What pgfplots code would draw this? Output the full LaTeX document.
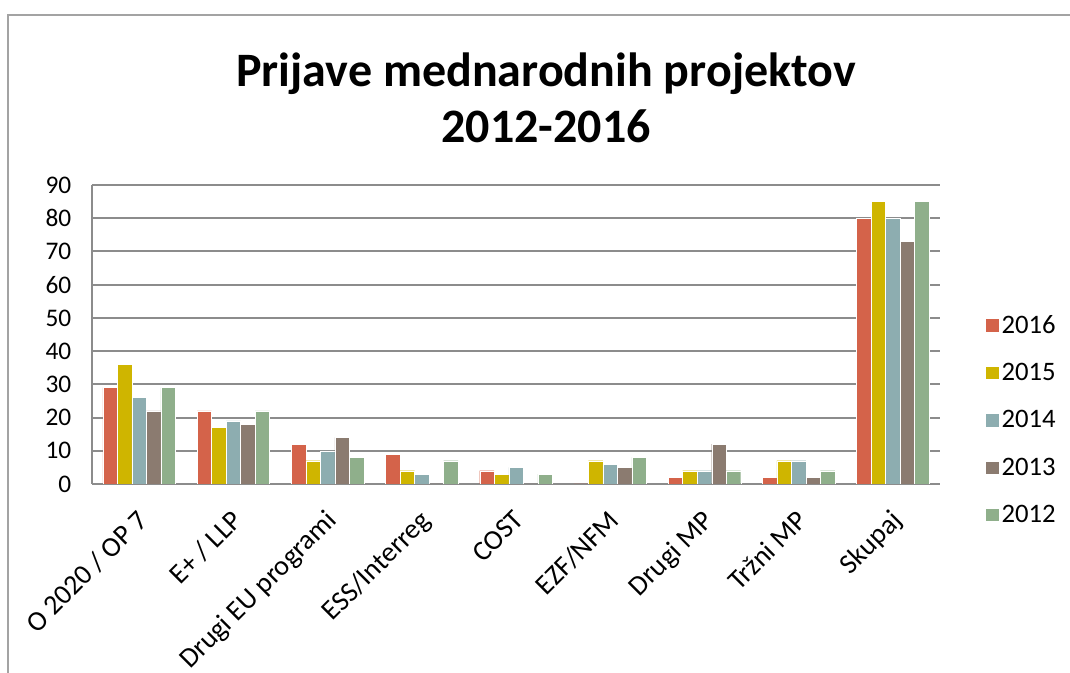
\documentclass[border=0pt]{standalone}
\usepackage{pgfplots}
\pgfplotsset{compat=1.18}
\usepackage{fontspec}
\setmainfont{Carlito}
\definecolor{c16}{RGB}{212,99,74}
\definecolor{c15}{RGB}{207,181,0}
\definecolor{c14}{RGB}{141,173,176}
\definecolor{c13}{RGB}{139,123,112}
\definecolor{c12}{RGB}{143,175,139}
\definecolor{gridc}{RGB}{140,140,140}
\begin{document}
\begin{tikzpicture}[x=0.75pt,y=0.75pt]
\useasboundingbox (0,0) rectangle (1070,673);
\draw[gridc!80, line width=1.2pt] (8,0) -- (8,658) -- (1070,658);
\node[font=\fontsize{36}{42}\selectfont\bfseries, align=center] at (546,575) {Prijave mednarodnih projektov\\2012-2016};
\begin{axis}[
  at={(69pt,141.75pt)}, anchor=south west,
  scale only axis,
  width=636pt, height=224.25pt,
  ymin=0, ymax=90, ytick={0,10,...,90},
  xmin=-0.5, xmax=8.5,
  xtick={0,...,8},
  xticklabels={O 2020 / OP 7, E+ / LLP, Drugi EU programi, ESS/Interreg, COST, EZF/NFM, Drugi MP, Tržni MP, Skupaj},
  x tick label style={rotate=45, anchor=north east, font=\fontsize{21}{23}\selectfont, inner sep=1pt, yshift=-10pt, xshift=-13.6pt},
  y tick label style={font=\fontsize{19}{21}\selectfont, xshift=-12pt},
  /pgf/number format/assume math mode=true,
  major tick length=0pt,
  axis x line*=bottom, axis y line*=left,
  axis line style={gridc, line width=1.5pt},
  ymajorgrids, grid style={gridc, line width=1.5pt},
  ybar=0pt, bar width=0.154,
  every axis plot/.append style={draw=white, line width=0.3pt},
  legend style={at={(1.053,0.215)}, anchor=west, draw=none, fill=none,
    font=\fontsize{20}{22}\selectfont, row sep=17pt, inner sep=0pt},
  legend cell align=left,
  legend image code/.code={\fill[#1] (0pt,-5pt) rectangle (10pt,5pt);},
]
\addplot[fill=c16] coordinates {(0,29) (1,22) (2,12) (3,9) (4,4) (5,0) (6,2) (7,2) (8,80)};
\addplot[fill=c15] coordinates {(0,36) (1,17) (2,7) (3,4) (4,3) (5,7) (6,4) (7,7) (8,85)};
\addplot[fill=c14] coordinates {(0,26) (1,19) (2,10) (3,3) (4,5) (5,6) (6,4) (7,7) (8,80)};
\addplot[fill=c13] coordinates {(0,22) (1,18) (2,14) (3,0) (4,0) (5,5) (6,12) (7,2) (8,73)};
\addplot[fill=c12] coordinates {(0,29) (1,22) (2,8) (3,7) (4,3) (5,8) (6,4) (7,4) (8,85)};
\legend{2016,2015,2014,2013,2012}
\end{axis}
\end{tikzpicture}
\end{document}
